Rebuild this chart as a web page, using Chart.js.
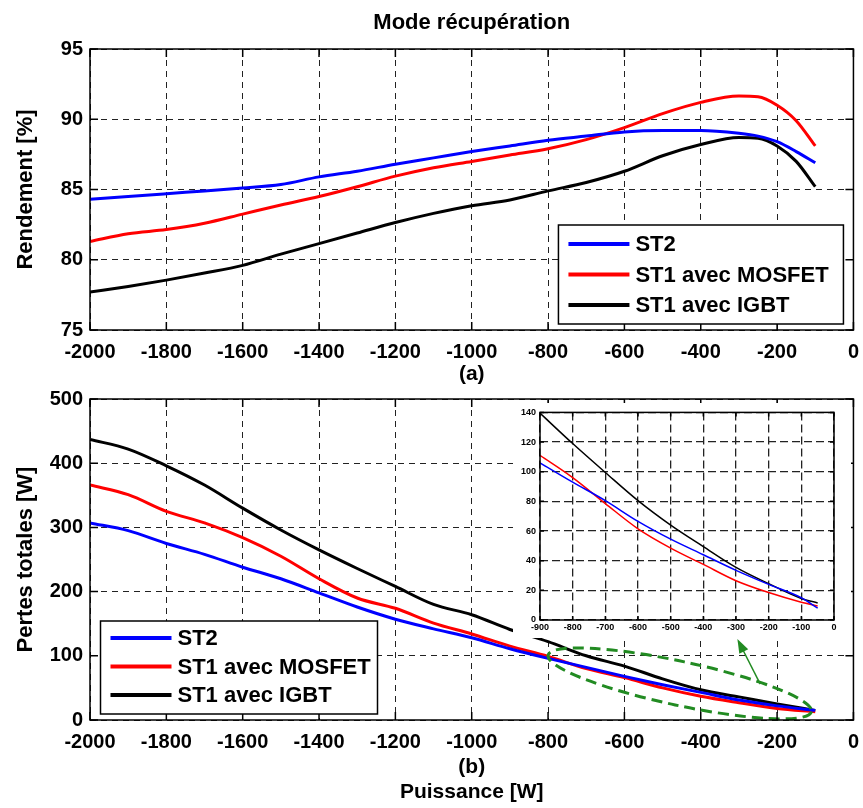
<!DOCTYPE html>
<html>
<head>
<meta charset="utf-8">
<script src="https://cdn.jsdelivr.net/npm/chart.js@4.4.1/dist/chart.umd.min.js"></script>
<style>
  body { margin: 0; background: #fff; width: 863px; height: 808px; position: relative; overflow: hidden; }
  canvas { position: absolute; }
</style>
</head>
<body>
<canvas id="top" width="869" height="392" style="left:0;top:0"></canvas>
<canvas id="bottom" width="869" height="428" style="left:0;top:380px"></canvas>
<canvas id="inset" width="338" height="235" style="left:513px;top:403px"></canvas>
<script>
// series names and colours
const names = ['ST2', 'ST1 avec MOSFET', 'ST1 avec IGBT'];
const colors = ['#0000ff', '#ff0000', '#000000'];

// (a) rendement [%]
const pTop = [-2000, -1900, -1800, -1700, -1600, -1500, -1400, -1300, -1200, -1100, -1000,
  -900, -800, -700, -600, -500, -400, -300, -250, -200, -150, -100];
const effST2 = [84.3, 84.5, 84.7, 84.9, 85.1, 85.35, 85.9, 86.3, 86.8, 87.25, 87.7,
  88.1, 88.5, 88.8, 89.1, 89.2, 89.2, 89.0, 88.8, 88.4, 87.7, 86.9];
const effMOS = [81.3, 81.85, 82.15, 82.6, 83.25, 83.9, 84.5, 85.2, 85.95, 86.55, 87.0,
  87.45, 87.9, 88.55, 89.4, 90.4, 91.2, 91.65, 91.6, 91.0, 89.9, 88.1];
const effIGBT = [77.7, 78.1, 78.55, 79.05, 79.6, 80.4, 81.15, 81.9, 82.65, 83.3, 83.85,
  84.25, 84.9, 85.5, 86.3, 87.4, 88.2, 88.7, 88.65, 88.1, 87.0, 85.2];

// (b) pertes totales [W]
const pBot = [-2000, -1900, -1800, -1700, -1600, -1500, -1400, -1300, -1200, -1100, -1000,
  -900, -800, -700, -600, -500, -400, -300, -200, -100];
const lossST2 = [307, 295, 275, 258, 238, 220, 198, 176, 157, 142, 128, 111, 96, 82, 68, 55, 43, 31, 22, 15];
const lossMOS = [366, 351, 325, 307, 284, 255, 220, 190, 174, 151, 134, 115, 99, 80, 66, 50, 37, 27, 18, 13];
const lossIGBT = [437, 422, 396, 366, 330, 296, 265, 236, 208, 180, 164, 141, 122, 100, 84, 64, 47, 36, 25, 15];

// zoom -900..0
const pZoom = [-900, -800, -700, -600, -500, -400, -300, -200, -100, -50];
const zoomST2 = [106, 93, 80.5, 66.5, 54.5, 44, 33.5, 24, 15, 8];
const zoomMOS = [111, 96, 78.5, 61.5, 48.5, 37.5, 26.5, 18.5, 12, 9.5];
const zoomIGBT = [139.5, 119, 99.5, 80.5, 64, 49.5, 35.5, 24.5, 14.5, 11.5];

// tick values
const pTicks = [-2000, -1800, -1600, -1400, -1200, -1000, -800, -600, -400, -200, 0];
const effTicks = [75, 80, 85, 90, 95];
const lossTicks = [0, 100, 200, 300, 400, 500];
const zoomXTicks = [-900, -800, -700, -600, -500, -400, -300, -200, -100, 0];
const zoomYTicks = [0, 20, 40, 60, 80, 100, 120, 140];

// green marks (ellipse tips and arrow ends, in data units)
const ringEnds = [[-800, 101], [-110, 13]];
const arrowFrom = [-244, 56];
const arrowTo = [-304, 126];

const FONT = '"Liberation Sans", Arial, Helvetica, sans-serif';
const GREEN = '#228b22';
Chart.defaults.font.family = FONT;
Chart.defaults.color = '#000';

function pairs(xs, ys) {
  return xs.map((x, i) => ({ x: x, y: ys[i] }));
}

function makeSets(xs, series, width) {
  return series.map((ys, i) => ({
    label: names[i],
    data: pairs(xs, ys),
    borderColor: colors[i],
    backgroundColor: colors[i],
    borderWidth: width,
    pointRadius: 0,
    cubicInterpolationMode: 'monotone',
  }));
}

function fixedTicks(list) {
  return function (scale) { scale.ticks = list.map(v => ({ value: v })); };
}

// box with inward ticks, like the original plot
function frame(len, lw) {
  return {
    id: 'frame',
    afterDraw(chart) {
      const { ctx, chartArea: a, scales: { x, y } } = chart;
      ctx.save();
      ctx.strokeStyle = '#000';
      ctx.lineWidth = lw;
      ctx.setLineDash([]);
      ctx.beginPath();
      x.ticks.forEach(t => {
        const px = x.getPixelForValue(t.value);
        ctx.moveTo(px, a.bottom); ctx.lineTo(px, a.bottom - len);
        ctx.moveTo(px, a.top); ctx.lineTo(px, a.top + len);
      });
      y.ticks.forEach(t => {
        const py = y.getPixelForValue(t.value);
        ctx.moveTo(a.left, py); ctx.lineTo(a.left + len, py);
        ctx.moveTo(a.right, py); ctx.lineTo(a.right - len, py);
      });
      ctx.stroke();
      ctx.strokeRect(a.left, a.top, a.right - a.left, a.bottom - a.top);
      ctx.restore();
    }
  };
}

function boxLegend(o) {
  return {
    id: 'boxLegend',
    afterDraw(chart) {
      const { ctx, chartArea: a } = chart;
      const left = o.side === 'right' ? a.right - o.gap - o.w : a.left + o.gap;
      const top = a.bottom - o.drop - o.h;
      ctx.save();
      ctx.fillStyle = '#fff';
      ctx.fillRect(left, top, o.w, o.h);
      ctx.strokeStyle = '#000';
      ctx.lineWidth = 1.5;
      ctx.strokeRect(left, top, o.w, o.h);
      ctx.font = 'bold 22px ' + FONT;
      ctx.textBaseline = 'middle';
      chart.data.datasets.forEach((ds, i) => {
        const yy = top + o.first + i * o.step;
        ctx.strokeStyle = ds.borderColor;
        ctx.lineWidth = 4;
        ctx.beginPath();
        ctx.moveTo(left + 10, yy);
        ctx.lineTo(left + 71, yy);
        ctx.stroke();
        ctx.fillStyle = '#000';
        ctx.fillText(ds.label, left + 77, yy + 1);
      });
      ctx.restore();
    }
  };
}

const guide = {
  id: 'guide',
  afterDatasetsDraw(chart) {
    const { ctx, scales: { x, y } } = chart;
    const px = p => [x.getPixelForValue(p[0]), y.getPixelForValue(p[1])];
    const a = px(ringEnds[0]), b = px(ringEnds[1]);
    const rx = Math.hypot(b[0] - a[0], b[1] - a[1]) / 2;
    const ang = Math.atan2(b[1] - a[1], b[0] - a[0]);
    ctx.save();
    ctx.strokeStyle = GREEN;
    ctx.fillStyle = GREEN;
    ctx.lineWidth = 3;
    ctx.setLineDash([11, 6]);
    ctx.beginPath();
    ctx.ellipse((a[0] + b[0]) / 2, (a[1] + b[1]) / 2, rx, 22, ang, 0, Math.PI * 2);
    ctx.stroke();

    const f = px(arrowFrom), t = px(arrowTo);
    const d = Math.atan2(t[1] - f[1], t[0] - f[0]);
    const c = Math.cos(d), s = Math.sin(d);
    ctx.setLineDash([]);
    ctx.lineWidth = 1.5;
    ctx.beginPath();
    ctx.moveTo(f[0], f[1]);
    ctx.lineTo(t[0] - 10 * c, t[1] - 10 * s);
    ctx.stroke();
    ctx.beginPath();
    ctx.moveTo(t[0], t[1]);
    ctx.lineTo(t[0] - 14 * c + 5 * s, t[1] - 14 * s - 5 * c);
    ctx.lineTo(t[0] - 14 * c - 5 * s, t[1] - 14 * s + 5 * c);
    ctx.closePath();
    ctx.fill();
    ctx.restore();
  }
};

const whiteBack = {
  id: 'whiteBack',
  beforeDraw(chart) {
    const ctx = chart.ctx;
    ctx.save();
    ctx.fillStyle = '#fff';
    ctx.fillRect(0, 0, chart.width, chart.height);
    ctx.restore();
  }
};

function mainScales(o) {
  return {
    x: {
      type: 'linear', min: -2000, max: 0,
      afterBuildTicks: fixedTicks(pTicks),
      afterFit: s => { s.height = o.xHeight; },
      ticks: { font: { size: 20, weight: 'bold' }, padding: 10, maxRotation: 0, autoSkip: false, callback: v => String(v) },
      grid: { color: '#222', lineWidth: 1, drawTicks: false },
      border: { display: false, dash: [6, 5] },
      title: { display: true, text: o.xTitle, font: { size: 21, weight: 'bold' }, padding: { top: 0, bottom: o.xTitlePad } }
    },
    y: {
      type: 'linear', min: o.yMin, max: o.yMax,
      afterBuildTicks: fixedTicks(o.yTicks),
      afterFit: s => { s.width = 90; },
      ticks: { font: { size: 20, weight: 'bold' }, padding: 7, callback: v => String(v) },
      grid: { color: '#222', lineWidth: 1, drawTicks: false },
      border: { display: false, dash: [6, 5] },
      title: { display: true, text: o.yTitle, font: { size: 22, weight: 'bold' }, padding: { top: 13, bottom: 0 } }
    }
  };
}

new Chart(document.getElementById('top'), {
  type: 'line',
  data: { datasets: makeSets(pTop, [effST2, effMOS, effIGBT], 3) },
  options: {
    responsive: false, animation: false,
    layout: { padding: { left: 0, right: 0, top: 0, bottom: 0 } },
    plugins: {
      legend: { display: false },
      tooltip: { enabled: false },
      title: { display: true, text: 'Mode récupération', fullSize: false, font: { size: 22, weight: 'bold' }, padding: { top: 10, bottom: 12.6 }, color: '#000' }
    },
    scales: mainScales({ xHeight: 62, xTitle: '(a)', xTitlePad: 5.4, yMin: 75, yMax: 95, yTicks: effTicks, yTitle: 'Rendement [%]' })
  },
  plugins: [frame(8, 1.5), boxLegend({ side: 'right', gap: 10, drop: 6, w: 285, h: 99, first: 19, step: 30.5 })]
});

new Chart(document.getElementById('bottom'), {
  type: 'line',
  data: { datasets: makeSets(pBot, [lossST2, lossMOS, lossIGBT], 3) },
  options: {
    responsive: false, animation: false,
    layout: { padding: { left: 0, right: 0, top: 19, bottom: 0 } },
    plugins: { legend: { display: false }, tooltip: { enabled: false } },
    scales: mainScales({ xHeight: 88, xTitle: ['(b)', 'Puissance [W]'], xTitlePad: 3.4, yMin: 0, yMax: 500, yTicks: lossTicks, yTitle: 'Pertes totales [W]' })
  },
  plugins: [guide, frame(8, 1.5), boxLegend({ side: 'left', gap: 10.5, drop: 6, w: 277, h: 93, first: 17, step: 28.5 })]
});

new Chart(document.getElementById('inset'), {
  type: 'line',
  data: { datasets: makeSets(pZoom, [zoomST2, zoomMOS, zoomIGBT], 1.5) },
  options: {
    responsive: false, animation: false,
    layout: { padding: { left: 0, right: 17, top: 6, bottom: 0 } },
    plugins: { legend: { display: false }, tooltip: { enabled: false } },
    scales: {
      x: {
        type: 'linear', min: -900, max: 0,
        afterBuildTicks: fixedTicks(zoomXTicks),
        afterFit: s => { s.height = 18; },
        ticks: { font: { size: 9, weight: 'bold' }, padding: 2, maxRotation: 0, autoSkip: false, callback: v => String(v) },
        grid: { color: '#222', lineWidth: 1.3, drawTicks: false },
        border: { display: false, dash: [8, 4] }
      },
      y: {
        type: 'linear', min: 0, max: 140,
        afterBuildTicks: fixedTicks(zoomYTicks),
        afterFit: s => { s.width = 27; },
        ticks: { font: { size: 9, weight: 'bold' }, padding: 4, callback: v => String(v) },
        grid: { color: '#222', lineWidth: 1.3, drawTicks: false },
        border: { display: false, dash: [8, 4] }
      }
    }
  },
  plugins: [whiteBack, frame(4, 1.5)]
});
</script>
</body>
</html>
